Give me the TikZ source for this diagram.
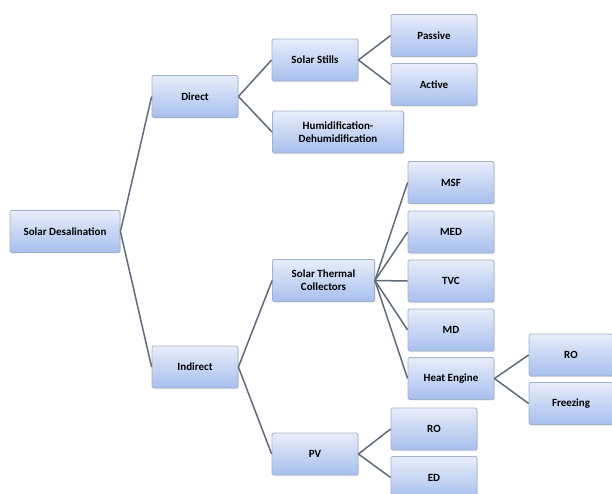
\documentclass[tikz,border=0pt]{standalone}
\usepackage{fontspec}
\setmainfont{Carlito}
\usetikzlibrary{shadows}
\definecolor{boxtop}{HTML}{E8EDFA}
\definecolor{boxbot}{HTML}{A7BFEE}
\definecolor{boxline}{HTML}{A4B2C8}
\definecolor{linkline}{HTML}{5F6B7B}
\tikzset{
  box/.style={rectangle,rounded corners=1.5pt,draw=boxline,line width=0.8pt,
    top color=boxtop,bottom color=boxbot,inner sep=1pt,align=center,
    minimum width=86pt,minimum height=42pt,font=\fontsize{11}{13}\selectfont\bfseries,
    drop shadow={opacity=0.18,shadow xshift=1pt,shadow yshift=-1.2pt}},
  link/.style={draw=linkline,line width=1.5pt}
}
\begin{document}
\begin{tikzpicture}[x=1pt,y=-1pt]
        \useasboundingbox (0,0) rectangle (612,493);
        \clip (0,0) rectangle (612,493);
        \node[box,minimum width=110pt] (desal) at (65,231.5) {Solar Desalination};
        \node[box] (direct) at (195,96.5) {Direct};
        \node[box] (indirect) at (195,367) {Indirect};
        \node[box] (stills) at (315,60) {Solar Stills};
        \node[box,minimum width=131pt] (hdh) at (338,132) {Humidification-\\Dehumidification};
        \node[box] (passive) at (434,35.5) {Passive};
        \node[box] (active) at (434,84.5) {Active};
        \node[box,minimum width=102pt] (stc) at (323.5,280.5) {Solar Thermal\\Collectors};
        \node[box] (msf) at (451,182.5) {MSF};
        \node[box] (med) at (451,232) {MED};
        \node[box] (tvc) at (451,281) {TVC};
        \node[box] (md) at (451,330) {MD};
        \node[box] (engine) at (451,378.5) {Heat Engine};
        \node[box,minimum width=84pt] (ro1) at (571,355) {RO};
        \node[box,minimum width=84pt] (freeze) at (571,403.5) {Freezing};
        \node[box] (pv) at (315,454) {PV};
        \node[box] (ro2) at (434,429) {RO};
        \node[box] (ed) at (434,477.5) {ED};
        % links
        \foreach \a/\b in {desal/direct,desal/indirect,direct/stills,direct/hdh,
            stills/passive,stills/active,indirect/stc,indirect/pv,stc/msf,stc/med,
            stc/tvc,stc/md,stc/engine,engine/ro1,engine/freeze,pv/ro2,pv/ed}
          \draw[link] (\a.east) -- (\b.west);
\end{tikzpicture}
\end{document}
